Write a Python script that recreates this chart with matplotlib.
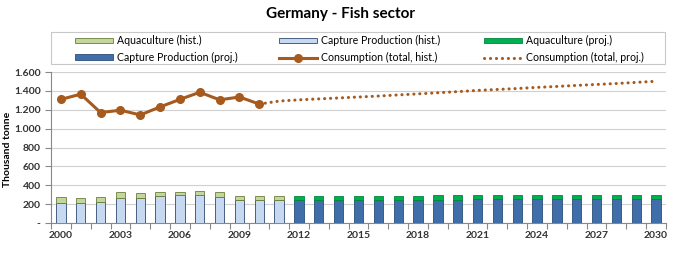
import matplotlib
matplotlib.use("Agg")
import matplotlib.pyplot as plt
from matplotlib.ticker import FuncFormatter
from matplotlib.patches import Rectangle
import numpy as np

plt.rcParams['font.family'] = ['Lato', 'DejaVu Sans']

years_hist = list(range(2000, 2012))
capture_hist = [210, 210, 221, 263, 263, 288, 295, 295, 277, 246, 246, 242]
aqua_hist = [64, 57, 56, 70, 53, 45, 38, 45, 49, 42, 42, 42]

years_proj = list(range(2012, 2031))
capture_proj = [246, 246, 247, 247, 248, 248, 248, 249, 249, 250, 250, 250, 251, 251, 251, 252, 252, 252, 252]
aqua_proj = [42, 42, 42, 42, 42, 42, 43, 43, 43, 44, 44, 44, 44, 44, 44, 44, 44, 44, 44]

cons_years_hist = list(range(2000, 2011))
cons_hist = [1310, 1365, 1170, 1195, 1145, 1230, 1310, 1385, 1305, 1335, 1260]

cons_years_proj = list(range(2010, 2031))
cons_proj = [1260, 1292, 1305, 1315, 1325, 1335, 1345, 1357, 1368, 1380, 1392,
             1405, 1415, 1425, 1437, 1447, 1458, 1468, 1478, 1490, 1502]

W, H = 675, 256
fig = plt.figure(figsize=(6.75, 2.56), dpi=100)
ax = fig.add_axes([51/W, 1-223/H, 615/W, (223-72)/H])

w = 0.47
c_cap_h, e_cap_h = '#C6D9F1', '#2F4A6E'
c_aq_h, e_aq_h = '#C3D69B', '#6B7F3A'
c_cap_p = '#3F6EA8'
c_aq_p = '#00B050'
brown = '#A65A1E'

b1 = ax.bar(years_hist, capture_hist, width=w, color=c_cap_h, edgecolor=e_cap_h, linewidth=0.6, zorder=3)
b2 = ax.bar(years_hist, aqua_hist, width=w, bottom=capture_hist, color=c_aq_h, edgecolor=e_aq_h, linewidth=0.6, zorder=3)
b3 = ax.bar(years_proj, capture_proj, width=w, color=c_cap_p, edgecolor='#2A4E7C', linewidth=0.6, zorder=3)
b4 = ax.bar(years_proj, aqua_proj, width=w, bottom=capture_proj, color=c_aq_p, edgecolor='#00863C', linewidth=0.6, zorder=3)

l1, = ax.plot(cons_years_hist, cons_hist, color=brown, lw=2.2, marker='o', ms=5.5, zorder=4)
l2, = ax.plot(cons_years_proj, cons_proj, color=brown, lw=2.2, linestyle=(0, (0.05, 1.9)),
              dash_capstyle='round', zorder=4)

ax.set_xlim(1999.5, 2030.5)
ax.set_ylim(0, 1600)
ax.set_yticks(range(0, 1601, 200))
ax.yaxis.set_major_formatter(FuncFormatter(lambda v, p: '-' if v == 0 else f'{int(v):,}'.replace(',', '.')))
ax.set_xticks(range(2000, 2031, 3))
ax.set_xticks(np.arange(1999.5, 2031, 1), minor=True)
ax.tick_params(axis='x', which='major', length=0, labelsize=7.5, pad=6)
ax.tick_params(axis='x', which='minor', length=4, color='#888888', width=0.8)
ax.tick_params(axis='y', length=4, color='#888888', labelsize=7.5)
for t in ax.get_xticklabels() + ax.get_yticklabels():
    t.set_fontweight('bold')
    t.set_color('#333333')

ax.grid(axis='y', color='#D0D0D0', linewidth=0.8, zorder=0)
for s in ['top', 'right']:
    ax.spines[s].set_visible(False)
ax.spines['left'].set_color('#888888')
ax.spines['bottom'].set_color('#888888')

ax.set_ylabel('Thousand tonne', fontsize=7.5, fontweight='bold')
ax.yaxis.set_label_coords((12-51)/615, 0.49)

fig.text(341/W, 1-14/H, 'Germany - Fish sector', ha='center', va='center', fontsize=11, fontweight='bold')

# legend frame
fig.patches.append(Rectangle((51/W, 1-64/H), 614/W, 32/H, transform=fig.transFigure,
                             fill=False, edgecolor='#C8C8C8', linewidth=0.8))

cols = [
    (75, [b2, b3], ['Aquaculture (hist.)', 'Capture Production (proj.)']),
    (279, [b1, l1], ['Capture Production (hist.)', 'Consumption (total, hist.)']),
    (484, [b4, l2], ['Aquaculture (proj.)', 'Consumption (total, proj.)']),
]
for x0, hs, ls in cols:
    lg = fig.legend(hs, ls, loc='center left', bbox_to_anchor=(x0/W, 1-49/H),
                    fontsize=7.6, frameon=False, handlelength=3.6, handleheight=0.45,
                    labelspacing=0.55, borderpad=0, borderaxespad=0, handletextpad=0.35)

fig.savefig('out.png', dpi=100)
